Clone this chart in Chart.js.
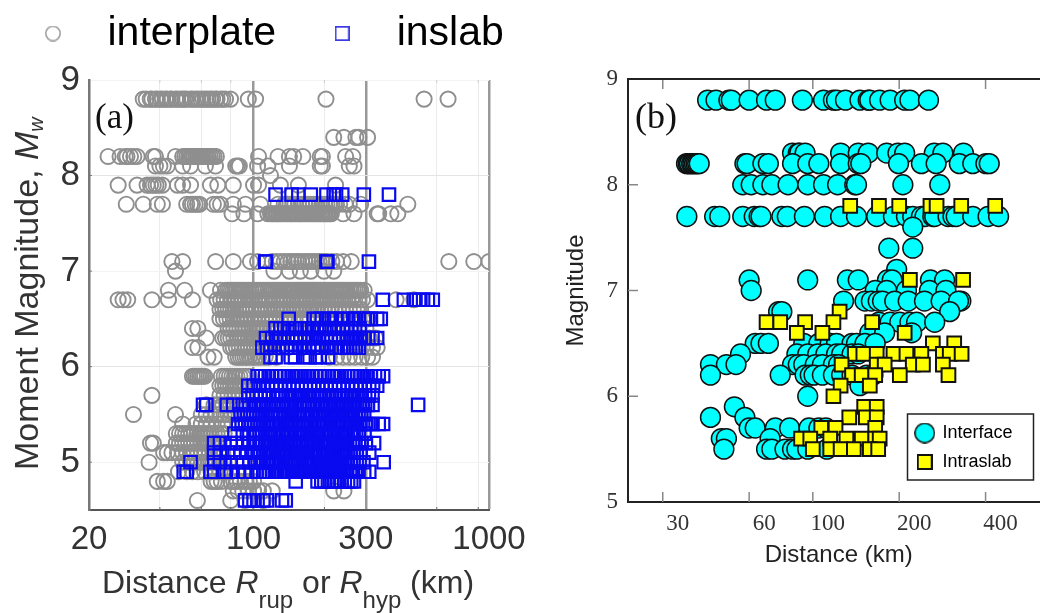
<!DOCTYPE html>
<html>
<head>
<meta charset="utf-8">
<title>Magnitude vs distance</title>
<script src="https://cdn.jsdelivr.net/npm/chart.js@4"></script>
<style>
html, body { margin: 0; padding: 0; background: #fff; overflow: hidden; width: 1040px; height: 613px; }
canvas { position: absolute; }
#chartA { left: -13px; top: -21px; filter: blur(0.5px); }
#chartB { left: 540px; top: 0; }
</style>
</head>
<body>
<canvas id="chartA" width="560" height="634"></canvas>
<canvas id="chartB" width="521" height="613"></canvas>
<script>
// panel (a) axes
const xTicksA = [20, 40, 60, 80, 100, 200, 300, 600, 900, 1000];
const xLabelsA = [20, 100, 300, 1000];
const xHeavyA = [100, 300, 1000];
const yTicksA = [5, 6, 7, 8, 9];

// panel (a) interplate distances, one array per magnitude
const interMag = [8.8, 8.4, 8.2, 8.1, 8.0, 7.9, 7.7, 7.6, 7.1, 7.0, 6.8, 6.7, 6.6, 6.5, 6.4, 6.3, 6.2, 6.1, 5.9, 5.8, 5.7, 5.6, 5.5, 5.4, 5.3, 5.2, 5.1, 5.0, 4.9, 4.8, 4.7, 4.6];
const i88 = [34, 35, 36.4, 37, 38.3, 39, 40.2, 41, 42.2, 43, 44.3, 45, 46.6, 47.5, 48.9, 50, 51, 52, 54, 55, 56.6, 58, 59.5, 61, 62.5, 64, 65.6, 67, 68.9, 70, 72.4, 74, 76, 79.8, 95, 102, 203, 530, 670];
const i84 = [219, 242, 272, 280, 305];
const i82 = [24.1, 27.1, 28.5, 29, 30, 31, 32, 37.5, 38.3, 46.6, 50, 51, 52, 53, 54, 54.7, 55.5, 56, 57, 58, 58.8, 59.6, 60.6, 61.4, 62.4, 63.3, 64.3, 65.5, 66.8, 68, 69.5, 105, 127, 142, 148, 162, 192, 196, 246, 264];
const i81 = [38.3, 40, 41.4, 43, 50, 54, 62.4, 68.9, 84, 85.5, 87, 104, 115, 142, 192, 196, 255, 267];
const i80 = [118];
const i79 = [26.6, 32, 35.3, 36.5, 37.5, 38.5, 39.4, 41, 47.5, 50, 54, 65.6, 70.5, 82, 100, 105, 130, 155, 223];
const i77 = [28.8, 34, 39, 41, 52, 54, 55, 56.5, 57.8, 59, 67.5, 70, 72.4, 82, 92.4, 107, 127, 135, 138, 140, 143, 147, 150, 155, 160, 165, 170, 175, 180, 185, 190, 195, 200, 205, 210, 215, 220, 225, 232, 245, 255, 285, 452];
const i76 = [81, 91, 104, 115, 118, 120, 122, 124, 126, 128, 130, 132, 135, 138, 140, 143, 145, 148, 150, 153, 155, 158, 160, 163, 166, 169, 172, 175, 178, 181, 184, 187, 190, 193, 196, 199, 202, 205, 208, 211, 214, 240, 267, 335, 340, 383, 410];
const i71 = [45, 50, 69, 82, 97, 104, 120, 125, 130, 135, 140, 144, 148, 152, 155, 160, 165, 170, 175, 180, 185, 190, 195, 200, 205, 215, 225, 240, 260, 675, 862, 1000];
const i70 = [46.6, 122, 142, 158, 175, 199, 219];
const i68 = [43.5, 51, 65.6, 72.4, 76, 77.5, 79, 80.5, 82, 83.5, 85, 86.5, 88, 89.5, 91, 93, 95, 97.5, 100, 102.5, 105, 107.5, 110, 112.5, 115, 117.5, 120, 122.5, 125, 127.5, 130, 132.5, 135, 137.5, 140, 142.5, 145, 148, 150, 153, 155, 158, 160, 163, 165, 168, 170, 173, 175, 178, 180, 183, 186, 189, 192, 195, 198, 201, 205, 208, 212, 216, 220, 224, 228, 232, 236, 240, 245, 250, 255, 260, 265, 270, 275, 280, 285, 295];
const i67 = [26.6, 27.9, 29.2, 37, 43.5, 55, 70, 72.5, 75, 77.5, 80, 83, 86, 89, 92, 95, 98, 101, 105, 108, 112, 116, 120, 124, 128, 132, 136, 140, 145, 150, 155, 160, 165, 170, 176, 182, 188, 194, 200, 207, 214, 221, 228, 236, 244, 252, 260, 269, 278, 290, 305, 403, 480];
const i66 = [72, 74, 76, 78, 80, 82, 84, 86.5, 89, 91.5, 94, 97, 100, 103, 106, 109.5, 113, 116, 120, 124, 128, 132, 136, 140, 145, 150, 154, 159, 164, 170, 175, 181, 187, 193, 200, 207, 214, 222, 230, 238, 246, 255, 265, 275, 285];
const i65 = [72, 74.5, 77, 79.5, 82, 85, 88, 91, 94, 97.5, 101, 104.5, 108, 112, 116, 120, 125, 130, 135, 142, 150, 160, 170, 182, 195, 210, 225, 242, 260, 275, 290, 305];
const i64 = [55, 58, 78, 80, 82.5, 85, 87.5, 90, 93, 96, 99.5, 103, 106, 110, 114, 118, 122, 127, 133, 140, 150, 160, 175, 190, 205, 220, 240, 260, 280, 300];
const i63 = [63, 74, 76, 78, 80, 82.5, 85, 87.5, 90, 92.5, 95, 97.5, 100, 102.5, 105, 108, 112, 116, 120, 130, 150, 175, 200, 225, 250, 270, 290, 310, 330];
const i62 = [55, 58, 80, 82, 84.5, 87, 89.5, 92, 95, 98, 101, 104, 107, 110, 114, 118, 128, 140, 160, 180, 210, 240, 270, 300, 320, 335];
const i61 = [64, 68, 84, 86, 88, 90, 92, 94, 96, 99, 102, 105, 108, 112, 116, 125, 210, 225, 240, 255, 270, 288, 305, 320];
const i59 = [55, 56, 57, 58, 59, 60, 61, 62, 73, 75, 77, 79, 81, 83, 85, 87.5, 90, 93, 96];
const i58 = [72, 74, 76, 78, 80, 82, 84, 86, 88, 90, 92];
const i57 = [37, 72, 75, 78, 81, 84, 87, 90];
const i56 = [63, 68, 71, 74, 77, 80, 83, 86];
const i55 = [30.9, 46.6, 60, 63, 66, 69, 72, 75, 78, 81, 84];
const i54 = [50, 57, 60, 63, 66, 70, 74, 78];
const i53 = [47, 48.5, 50, 51.5, 53, 54.5, 56, 57.5, 59, 60.5, 62, 64, 66, 68, 70, 72.5, 75];
const i52 = [36.5, 37.5, 47, 48.5, 50, 51.5, 53, 54.5, 56, 58, 60, 62, 64, 66, 68, 71, 74];
const i51 = [41.5, 43, 45, 47.5, 50, 52, 54, 56, 58, 60, 62, 65, 68, 71, 74];
const i50 = [36, 50, 52, 54, 56, 58, 60, 62, 64, 66, 69, 72, 75, 78];
const i49 = [48, 52, 55, 58, 62, 66, 69, 72, 76, 80];
const i48 = [39, 41.5, 43, 66, 68, 70, 73, 80, 82.5, 85, 88, 92, 96, 100];
const i47 = [82, 86, 90, 95, 100, 105, 110, 120, 219, 242];
const i46 = [57.7, 80, 92, 110];
const interRows = [i88, i84, i82, i81, i80, i79, i77, i76, i71, i70, i68, i67, i66, i65, i64, i63, i62, i61, i59, i58, i57, i56, i55, i54, i53, i52, i51, i50, i49, i48, i47, i46];

// panel (a) inslab distances, one array per magnitude
const slabMag = [7.8, 7.1, 6.7, 6.5, 6.4, 6.3, 6.2, 6.1, 5.9, 5.8, 5.7, 5.6, 5.5, 5.4, 5.3, 5.2, 5.1, 5.0, 4.9, 4.8, 4.6];
const s78 = [124, 145, 155, 175, 204, 219, 224, 238, 294, 376];
const s71 = [112, 113, 204, 206, 309];
const s67 = [354, 435, 480, 505, 525, 550, 577];
const s65 = [141, 180, 186, 195, 208, 215, 225, 238, 252, 265, 272, 280, 295, 305, 315, 335, 347];
const s64 = [124, 130, 135, 142, 150, 157, 165, 172, 180, 190, 200, 210, 220, 230, 240, 250, 260, 270, 282];
const s63 = [113, 120, 125, 130, 135, 140, 146, 152, 158, 165, 171, 178, 184, 190, 197, 205, 213, 222, 231, 240, 249, 258, 266, 275, 285, 295, 307, 320, 335];
const s62 = [109, 114, 118, 123, 128, 133, 138, 144, 150, 157, 165, 172, 180, 187, 195, 205, 215, 225, 235, 242, 250, 257, 265, 272, 280];
const s61 = [118, 124, 144, 150, 166, 173, 184, 191, 207];
const s59 = [104, 108, 112, 116, 120, 125, 130, 135, 140, 145, 150, 155, 160, 166, 172, 178, 185, 192, 200, 207, 215, 221, 228, 236, 245, 252, 260, 267, 275, 285, 295, 305, 315, 328, 340, 355];
const s58 = [95, 100, 105, 110, 115, 120, 125, 130, 136, 142, 148, 154, 160, 167, 174, 181, 188, 196, 204, 213, 222, 231, 240, 251, 262, 273, 285, 297, 310, 322, 335];
const s57 = [95, 99, 103, 107, 112, 116, 121, 125, 128, 132, 137, 141, 146, 151, 157, 162, 168, 174, 181, 187, 194, 201, 209, 216, 224, 232, 241, 250, 259, 268, 278, 288, 298, 309, 320];
const s56 = [61, 63, 77, 82, 90, 96, 100, 102.5, 105, 107.5, 110, 113, 116, 119, 122, 125, 128, 131, 134, 138, 141, 145, 149, 153, 157, 161, 165, 169, 173, 178, 182, 187, 192, 197, 202, 207, 213, 218, 224, 230, 236, 242, 249, 255, 262, 269, 276, 283, 291, 298, 306, 320, 500];
const s55 = [88, 91, 94, 97, 100, 103, 106, 109, 112, 115, 118, 121, 124, 127, 130, 134, 137, 141, 145, 149, 153, 157, 161, 165, 169, 174, 178, 183, 188, 193, 198, 203, 209, 214, 220, 226, 232, 238, 245, 251, 258, 265, 272, 279, 287, 295];
const s54 = [86, 89, 92, 95, 98, 101, 104, 107, 110, 113, 116, 119, 122, 125, 129, 132, 136, 139, 143, 147, 151, 155, 159, 163, 167, 172, 176, 181, 186, 191, 196, 201, 206, 212, 218, 224, 230, 236, 242, 249, 255, 262, 269, 276, 284, 292, 300, 308, 320, 340, 355];
const s53 = [83, 90, 96, 100, 103, 106, 109, 112, 115, 118, 121, 124, 127, 131, 134, 138, 141, 145, 149, 153, 157, 161, 165, 170, 174, 179, 184, 189, 194, 199, 204, 210, 215, 221, 227, 233, 239, 246, 252, 259, 266, 273, 280, 296];
const s52 = [68, 72, 80, 85, 90, 95, 100, 103, 106, 109, 112, 115, 118, 122, 125, 128, 132, 135, 139, 143, 147, 151, 155, 159, 163, 168, 172, 177, 182, 187, 192, 197, 202, 208, 213, 219, 225, 231, 237, 244, 250, 257, 264, 271, 280, 300, 325];
const s51 = [68, 72, 78, 83, 88, 93, 98, 101, 104, 107, 110, 113, 116, 119, 122, 126, 129, 133, 136, 140, 144, 148, 152, 156, 160, 165, 169, 174, 178, 183, 188, 193, 198, 204, 209, 215, 221, 227, 233, 239, 246, 252, 259, 266, 274, 285, 310];
const s50 = [54, 68, 72, 80, 85, 90, 96, 101, 104, 107, 110, 113, 116, 119, 122, 125, 129, 132, 136, 140, 143, 147, 151, 155, 159, 164, 168, 173, 177, 182, 187, 192, 197, 203, 208, 214, 220, 226, 232, 238, 245, 252, 259, 266, 274, 282, 293, 357];
const s49 = [50.5, 52, 65.6, 68, 75, 80, 86, 92, 98, 103, 106, 110, 113, 116, 120, 123, 126, 130, 134, 137, 141, 145, 149, 153, 157, 162, 166, 171, 175, 180, 185, 190, 195, 201, 206, 212, 218, 224, 230, 236, 243, 250, 257, 264, 271, 279, 295, 310];
const s48 = [151, 187, 194, 200, 207, 215, 221, 228, 236, 244, 252, 260, 267];
const s46 = [92, 96, 100, 104, 110, 114, 132, 137];
const slabRows = [s78, s71, s67, s65, s64, s63, s62, s61, s59, s58, s57, s56, s55, s54, s53, s52, s51, s50, s49, s48, s46];

// panel (b) axes
const xTicksB = [30, 60, 100, 200, 400];
const yTicksB = [5, 6, 7, 8, 9];

// panel (b) interface distances
const faceMag = [8.8, 8.3, 8.2, 8.0, 7.7, 7.6, 7.4, 7.2, 7.1, 7.0, 6.9, 6.8, 6.7, 6.6, 6.5, 6.4, 6.3, 6.2, 6.1, 6.0, 5.9, 5.8, 5.7, 5.6, 5.5];
const f88 = [43, 46, 51, 52, 60, 69, 74, 92, 109, 118, 121, 130, 146, 156, 158, 171, 186, 209, 218, 253];
const f83 = [85, 89, 90, 94, 125, 144, 156, 181, 198, 209, 265, 284, 335];
const f82 = [36.3, 36.8, 37.2, 37.8, 38.2, 38.7, 39.2, 39.7, 40.2, 58, 59, 67, 70, 85, 96, 105, 125, 144, 147, 199, 239, 269, 324, 361, 401, 412];
const f80 = [57, 61, 67, 72, 82, 96, 109, 122, 140, 142, 206, 277];
const f77 = [36.4, 45.5, 47.4, 57, 62.5, 65, 66, 78, 81.5, 93.5, 110, 125, 142, 167, 191, 212, 223, 239, 246, 262, 266, 296, 308, 316, 361, 408, 444];
const f76 = [223];
const f74 = [184, 223];
const f72 = [196];
const f71 = [60, 96, 132, 144, 182, 189, 257, 288];
const f70 = [61, 165, 181, 212, 255, 291];
const f69 = [128, 152, 160, 169, 175, 193, 215, 245, 280, 328, 322];
const f68 = [76, 78, 300];
const f67 = [170, 186, 201, 218, 230, 266];
const f66 = [158, 178, 221];
const f65 = [63, 66, 70, 93, 105, 115, 121, 137, 142, 152, 165];
const f64 = [56, 88, 96, 104, 111, 121, 126, 137, 144];
const f63 = [44, 50, 54, 85, 89, 93, 102, 108, 118, 123];
const f62 = [44, 77, 94, 98, 101, 108, 118, 126, 137, 154, 162];
const f61 = [146];
const f60 = [96];
const f59 = [53.3];
const f58 = [44, 58];
const f57 = [60, 63, 74, 83, 97, 105, 111];
const f56 = [48, 50, 71];
const f55 = [49, 69, 72, 80, 85, 88, 96, 112];
const faceRows = [f88, f83, f82, f80, f77, f76, f74, f72, f71, f70, f69, f68, f67, f66, f65, f64, f63, f62, f61, f60, f59, f58, f57, f56, f55];

// panel (b) intraslab distances
const intraMag = [7.8, 7.1, 6.8, 6.7, 6.6, 6.5, 6.4, 6.3, 6.2, 6.1, 6.0, 5.9, 5.8, 5.7, 5.6, 5.5];
const n78 = [135, 170, 200, 257, 270, 329, 432];
const n71 = [218, 334];
const n68 = [124];
const n67 = [69, 77, 94, 118, 161];
const n66 = [88, 108, 209];
const n65 = [262, 311];
const n64 = [140, 150, 167, 191, 212, 239, 284, 300, 330];
const n63 = [126, 167, 178, 223, 242, 284];
const n62 = [137, 148, 165, 201, 297];
const n61 = [125, 158];
const n60 = [118];
const n59 = [151, 167];
const n58 = [134, 153, 167];
const n57 = [107, 120, 165];
const n56 = [91, 98, 115, 131, 148, 165, 171];
const n55 = [100, 115, 125, 139, 158, 169];
const intraRows = [n78, n71, n68, n67, n66, n65, n64, n63, n62, n61, n60, n59, n58, n57, n56, n55];

function toPoints(mags, rows) {
    return rows.flatMap((row, i) => row.map(d => ({ x: d, y: mags[i] })));
}

function fixTicks(values) {
    return function (axis) {
        axis.ticks = values.map(v => ({ value: v }));
    };
}

// small square or round marker for the legends
function marker(kind, size, fill, stroke, lineWidth) {
    const c = document.createElement('canvas');
    c.width = size;
    c.height = size;
    const g = c.getContext('2d');
    g.strokeStyle = stroke;
    g.lineWidth = lineWidth;
    g.fillStyle = fill;
    if (kind === 'circle') {
        g.beginPath();
        g.arc(size / 2, size / 2, size / 2 - lineWidth / 2, 0, Math.PI * 2);
        if (fill) g.fill();
        g.stroke();
    } else {
        if (fill) g.fillRect(lineWidth / 2, lineWidth / 2, size - lineWidth, size - lineWidth);
        g.strokeRect(lineWidth / 2, lineWidth / 2, size - lineWidth, size - lineWidth);
    }
    return c;
}

// inward tick marks, placed through the scales
function innerTicks(xStyle, yStyle) {
    return {
        id: 'innerTicks',
        afterDatasetsDraw(chart) {
            const { ctx, chartArea, scales } = chart;
            ctx.save();
            ctx.lineWidth = xStyle.width;
            scales.x.ticks.forEach(t => {
                const px = scales.x.getPixelForValue(t.value);
                if (xStyle.skip.includes(t.value)) return;
                ctx.strokeStyle = xStyle.color;
                ctx.beginPath();
                ctx.moveTo(px, chartArea.bottom);
                ctx.lineTo(px, chartArea.bottom - xStyle.length);
                ctx.stroke();
                ctx.strokeStyle = xStyle.topColor;
                ctx.beginPath();
                ctx.moveTo(px, chartArea.top);
                ctx.lineTo(px, chartArea.top + xStyle.length);
                ctx.stroke();
            });
            ctx.strokeStyle = yStyle.color;
            ctx.lineWidth = yStyle.width;
            scales.y.ticks.forEach(t => {
                const py = scales.y.getPixelForValue(t.value);
                if (yStyle.skip.includes(t.value)) return;
                ctx.beginPath();
                ctx.moveTo(chartArea.left, py);
                ctx.lineTo(chartArea.left + yStyle.length, py);
                ctx.stroke();
            });
            ctx.restore();
        }
    };
}

// text made of several runs, for the italic letters and subscripts
function drawRuns(ctx, runs, x, y) {
    let cx = x;
    runs.forEach(r => {
        ctx.font = r.font;
        ctx.fillText(r.text, cx, y + (r.dy || 0));
        cx += ctx.measureText(r.text).width;
    });
}

const SANS = '"Liberation Sans", Arial, sans-serif';
const SERIF = '"Liberation Serif", "Times New Roman", serif';

const legendGap = {
    id: 'legendGap',
    beforeInit(chart) {
        const fit = chart.legend.fit;
        chart.legend.fit = function () {
            // both entries have to stay on one line, past the plot's right edge
            this.maxWidth = 620;
            fit.call(this);
            this.height = 99;
        };
    },
    afterLayout(chart) {
        chart.legend.right = 620;
    }
};

const titlesA = {
    id: 'titlesA',
    afterDraw(chart) {
        const ctx = chart.ctx;
        ctx.save();
        ctx.fillStyle = '#333';
        ctx.textBaseline = 'alphabetic';
        drawRuns(ctx, [
            { text: 'Distance ', font: '32px ' + SANS },
            { text: 'R', font: 'italic 32px ' + SANS },
            { text: 'rup', font: '24px ' + SANS, dy: 15 },
            { text: ' or ', font: '32px ' + SANS },
            { text: 'R', font: 'italic 32px ' + SANS },
            { text: 'hyp', font: '24px ' + SANS, dy: 15 },
            { text: ' (km)', font: '32px ' + SANS }
        ], 115, 614);
        ctx.translate(51, 491);
        ctx.rotate(-Math.PI / 2);
        drawRuns(ctx, [
            { text: 'Moment Magnitude, ', font: '34px ' + SANS },
            { text: 'M', font: 'italic 34px ' + SANS },
            { text: 'w', font: 'italic 20px ' + SANS, dy: 5 }
        ], 0, 0);
        ctx.restore();
        ctx.save();
        ctx.fillStyle = '#111';
        ctx.font = '35px ' + SERIF;
        ctx.textBaseline = 'alphabetic';
        ctx.fillText('(a)', 108, 149);
        ctx.restore();
    }
};

new Chart(document.getElementById('chartA'), {
    type: 'scatter',
    data: {
        datasets: [{
            label: 'interplate',
            data: toPoints(interMag, interRows),
            order: 2,
            pointStyle: 'circle',
            pointRadius: 7.6,
            backgroundColor: 'transparent',
            borderColor: '#8f8f8f',
            borderWidth: 1.9
        }, {
            label: 'inslab',
            data: toPoints(slabMag, slabRows),
            order: 1,
            pointStyle: 'rect',
            pointRadius: 8.8,
            backgroundColor: 'transparent',
            borderColor: '#0a0af0',
            borderWidth: 2.2
        }]
    },
    options: {
        responsive: false,
        animation: false,
        layout: { padding: { top: 2, right: 58 } },
        plugins: {
            tooltip: { enabled: false },
            legend: {
                position: 'top',
                align: 'start',
                labels: {
                    usePointStyle: true,
                    pointStyleWidth: 68,
                    padding: 32,
                    color: '#222',
                    font: { family: SANS, size: 41 },
                    generateLabels: () => [
                        { text: 'interplate', pointStyle: marker('circle', 16, null, '#a0a0a0', 1.6), datasetIndex: 0 },
                        { text: 'inslab', pointStyle: marker('rect', 15, null, '#3a3ae6', 1.7), datasetIndex: 1 }
                    ]
                }
            }
        },
        scales: {
            x: {
                type: 'logarithmic',
                min: 20,
                max: 1000,
                afterBuildTicks: fixTicks(xTicksA),
                afterFit(scale) { scale.height = 103; },
                border: { color: '#555', width: 2 },
                grid: {
                    drawTicks: false,
                    color: c => c.tick.value === 20 ? 'transparent' : xHeavyA.includes(c.tick.value) ? '#999' : '#ececec',
                    lineWidth: c => xHeavyA.includes(c.tick.value) ? 2.5 : 1
                },
                ticks: {
                    autoSkip: false,
                    maxRotation: 0,
                    padding: 10,
                    color: '#333',
                    font: { family: SANS, size: 33 },
                    callback: v => xLabelsA.includes(v) ? String(v) : ''
                }
            },
            y: {
                min: 4.5,
                max: 9,
                afterBuildTicks: fixTicks(yTicksA),
                afterFit(scale) { scale.width = 102; },
                border: { color: '#777', width: 2.5 },
                grid: {
                    drawTicks: false,
                    color: c => (c.tick.value === 6 || c.tick.value === 8) ? '#e4e4e4' : '#f3f3f3',
                    lineWidth: 1
                },
                ticks: {
                    padding: 9,
                    color: '#333',
                    font: { family: SANS, size: 35 },
                    callback: v => String(v)
                }
            }
        }
    },
    plugins: [legendGap, titlesA, innerTicks(
        { width: 1, length: 3, color: '#666', topColor: '#ccc', skip: [20, 100, 300, 1000] },
        { width: 1, length: 3, color: '#777', skip: [9] }
    )]
});

const placeLegendB = {
    id: 'placeLegendB',
    afterLayout(chart) {
        const lg = chart.legend;
        const w = lg.width;
        const h = lg.height;
        lg.left = 365;
        lg.top = 413;
        lg.right = lg.left + w;
        lg.bottom = lg.top + h;
    },
    afterDraw(chart) {
        const ctx = chart.ctx;
        ctx.save();
        ctx.strokeStyle = '#222';
        ctx.lineWidth = 1.5;
        ctx.strokeRect(367.5, 414, 126, 66);
        // top spine, the chart has no option for it
        ctx.lineWidth = 2;
        ctx.strokeStyle = '#222';
        ctx.beginPath();
        ctx.moveTo(chart.chartArea.left, chart.chartArea.top);
        ctx.lineTo(chart.chartArea.right, chart.chartArea.top);
        ctx.stroke();
        ctx.fillStyle = '#111';
        ctx.font = '36px ' + SERIF;
        ctx.textBaseline = 'alphabetic';
        ctx.fillText('(b)', 95, 128);
        ctx.restore();
    }
};

new Chart(document.getElementById('chartB'), {
    type: 'scatter',
    data: {
        datasets: [{
            label: 'Interface',
            data: toPoints(faceMag, faceRows),
            order: 2,
            pointStyle: 'circle',
            pointRadius: 9.9,
            backgroundColor: '#00ffff',
            borderColor: '#111',
            borderWidth: 1.5
        }, {
            label: 'Intraslab',
            data: toPoints(intraMag, intraRows),
            order: 1,
            pointStyle: 'rect',
            pointRadius: 9.7,
            backgroundColor: '#ffff00',
            borderColor: '#111',
            borderWidth: 2
        }]
    },
    options: {
        responsive: false,
        animation: false,
        layout: { padding: { top: 79 } },
        plugins: {
            tooltip: { enabled: false },
            legend: {
                position: 'chartArea',
                align: 'start',
                labels: {
                    usePointStyle: true,
                    pointStyleWidth: 17.4,
                    padding: 11,
                    color: '#333',
                    font: { family: SANS, size: 18 },
                    generateLabels: () => [
                        { text: 'Interface', pointStyle: marker('circle', 21, '#00ffff', '#111', 1.5), datasetIndex: 0 },
                        { text: 'Intraslab', pointStyle: marker('rect', 16, '#ffff00', '#111', 2), datasetIndex: 1 }
                    ]
                }
            }
        },
        scales: {
            x: {
                type: 'logarithmic',
                min: 22.7,
                max: 667,
                afterBuildTicks: fixTicks(xTicksB),
                afterFit(scale) { scale.height = 111; },
                border: { color: '#222', width: 2 },
                grid: { display: false, drawTicks: false },
                title: {
                    display: true,
                    text: 'Distance (km)',
                    color: '#222',
                    font: { family: SANS, size: 24 },
                    padding: { top: 0, bottom: 43 }
                },
                ticks: {
                    autoSkip: false,
                    maxRotation: 0,
                    padding: 8,
                    labelOffset: 15,
                    color: '#333',
                    font: { family: SERIF, size: 23 },
                    callback: v => String(v)
                }
            },
            y: {
                min: 5,
                max: 9,
                afterBuildTicks: fixTicks(yTicksB),
                afterFit(scale) { scale.width = 88; },
                border: { color: '#222', width: 2 },
                grid: { display: false, drawTicks: false },
                title: {
                    display: true,
                    text: 'Magnitude',
                    color: '#222',
                    font: { family: SANS, size: 24 },
                    padding: { top: 22, bottom: 0 }
                },
                ticks: {
                    padding: 10,
                    color: '#333',
                    font: { family: SERIF, size: 23 },
                    callback: v => String(v)
                }
            }
        }
    },
    plugins: [placeLegendB, innerTicks(
        { width: 1.5, length: 10, color: '#888', topColor: '#888', skip: [] },
        { width: 1.5, length: 10, color: '#888', skip: [5, 9] }
    )]
});
</script>
</body>
</html>
